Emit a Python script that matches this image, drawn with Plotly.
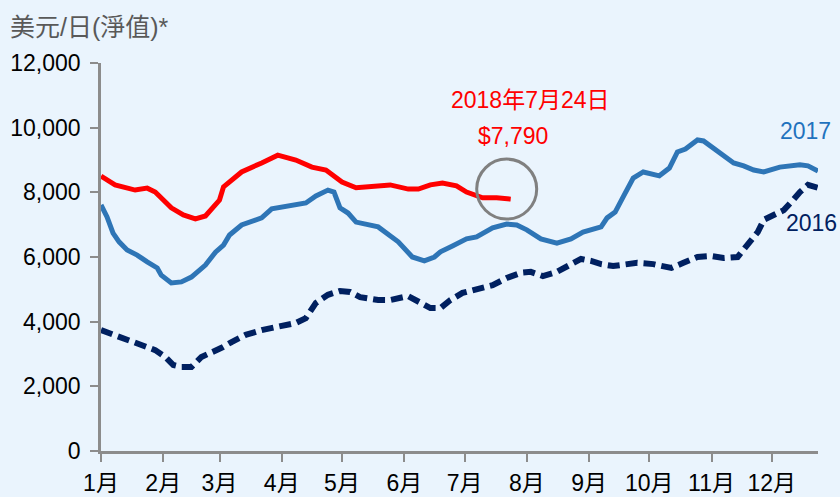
import pandas as pd
import plotly.graph_objects as go

# ---- data (day offset from Jan 1, value in USD/day) ----
days_2018 = [0, 7, 17, 23, 27, 35, 41, 47, 52, 59, 61, 65, 70, 80, 88, 97, 105, 112,
             120, 127, 136, 144, 153, 158, 164, 170, 177, 182, 190, 197, 204]
vals_2018 = [8500, 8230, 8070, 8130, 8010, 7520, 7300, 7180, 7270, 7760, 8170, 8380,
             8630, 8910, 9150, 9000, 8780, 8690, 8320, 8140, 8200, 8230, 8100, 8100,
             8230, 8290, 8200, 8010, 7830, 7830, 7790]

days_2017 = [0, 3, 6, 9, 13, 18, 23, 28, 30, 35, 40, 45, 52, 57, 61, 64, 70, 80, 85,
             95, 102, 107, 113, 116, 119, 123, 127, 138, 142, 148, 155, 161, 166, 169,
             175, 182, 187, 195, 202, 207, 212, 219, 227, 234, 240, 249, 252, 256, 260,
             262, 265, 270, 278, 283, 287, 291, 297, 300, 305, 310, 315, 320, 325, 330,
             333, 338, 348, 352, 357]
vals_2017 = [7610, 7240, 6740, 6470, 6220, 6060, 5850, 5660, 5440, 5200, 5230, 5380,
             5750, 6150, 6370, 6680, 6990, 7210, 7490, 7580, 7670, 7890, 8070, 8010,
             7520, 7360, 7080, 6930, 6740, 6470, 6000, 5880, 6000, 6160, 6340, 6560,
             6620, 6900, 7020, 6990, 6840, 6560, 6430, 6560, 6770, 6930, 7210, 7390,
             7860, 8070, 8440, 8630, 8510, 8750, 9250, 9340, 9620, 9590, 9370, 9160,
             8910, 8820, 8690, 8630, 8690, 8780, 8850, 8820, 8660]

days_2016 = [0, 7, 13, 20, 27, 32, 36, 40, 45, 50, 55, 60, 65, 72, 80, 88, 97, 102,
             107, 113, 119, 124, 129, 138, 144, 153, 158, 164, 169, 174, 180, 189, 195,
             202, 209, 214, 220, 227, 234, 239, 244, 249, 255, 260, 267, 275, 284, 290,
             297, 304, 310, 317, 320, 324, 327, 330, 335, 340, 345, 348, 352, 357]
vals_2016 = [3740, 3590, 3430, 3280, 3120, 2910, 2660, 2600, 2600, 2910, 3030, 3190,
             3370, 3590, 3740, 3840, 3960, 4110, 4580, 4830, 4950, 4920, 4760, 4670,
             4670, 4790, 4610, 4420, 4420, 4670, 4890, 5040, 5130, 5350, 5510, 5540,
             5410, 5540, 5800, 5940, 5880, 5780, 5720, 5750, 5820, 5780, 5660, 5820,
             6000, 6030, 5970, 6000, 6220, 6530, 6770, 7150, 7300, 7450, 7790, 8010,
             8230, 8140]

month_ticks = ["2017-%02d-01" % m for m in range(1, 13)]
month_labels = ["%d月" % m for m in range(1, 13)]

BASE = pd.Timestamp("2017-01-01")


def to_dates(days):
    return BASE + pd.to_timedelta(days, unit="D")


FONT = "Liberation Sans, Arial, Noto Sans CJK TC, sans-serif"
BG = "#EAF4FD"
AXIS = "#8C8C8C"
RED = "#FF0000"
BLUE = "#2E75B6"
NAVY = "#002060"

W, H = 840, 497

fig = go.Figure()
fig.add_trace(go.Scatter(x=to_dates(days_2016), y=vals_2016, mode="lines",
                         line=dict(color=NAVY, width=6, dash="12px,6px"),
                         name="2016", hoverinfo="skip"))
fig.add_trace(go.Scatter(x=to_dates(days_2017), y=vals_2017, mode="lines",
                         line=dict(color=BLUE, width=5), name="2017", hoverinfo="skip"))
fig.add_trace(go.Scatter(x=to_dates(days_2018), y=vals_2018, mode="lines",
                         line=dict(color=RED, width=5), name="2018", hoverinfo="skip"))

# circle around the latest value (pixel-sized, anchored at data point)
fig.add_shape(type="circle", xref="x", yref="y",
              xsizemode="pixel", ysizemode="pixel",
              xanchor=BASE + pd.Timedelta(days=202), yanchor=8100,
              x0=-30, x1=30, y0=-30, y1=30,
              line=dict(color="#808080", width=3), fillcolor="rgba(0,0,0,0)")

fig.add_annotation(x=BASE + pd.Timedelta(days=214), y=10860, text="2018年7月24日",
                   showarrow=False, font=dict(color=RED, size=23, family=FONT))
fig.add_annotation(x=BASE + pd.Timedelta(days=205), y=9740, text="$7,790",
                   showarrow=False, font=dict(color=RED, size=23, family=FONT))
fig.add_annotation(x=BASE + pd.Timedelta(days=351), y=9900, text="2017",
                   showarrow=False, font=dict(color="#1F72BE", size=23, family=FONT))
fig.add_annotation(x=BASE + pd.Timedelta(days=354), y=7050, text="2016",
                   showarrow=False, font=dict(color=NAVY, size=23, family=FONT))

fig.update_layout(
    width=W, height=H,
    margin=dict(l=101, r=22, t=63, b=46, autoexpand=False),
    paper_bgcolor=BG, plot_bgcolor=BG,
    showlegend=False,
    font=dict(family=FONT, size=23, color="#000000"),
    title=dict(text="美元/日(淨值)*", x=10 / W, xanchor="left", xref="container",
               y=1 - 27 / H, yanchor="middle", yref="container",
               font=dict(size=25, color="#595959", family=FONT)),
)
fig.update_xaxes(
    type="date", range=["2017-01-01", "2017-12-24"],
    tickvals=month_ticks, ticktext=month_labels,
    showgrid=False, zeroline=False, automargin=False,
    showline=True, linecolor=AXIS, linewidth=2.5,
    ticks="outside", ticklen=8, tickwidth=2, tickcolor=AXIS,
    tickfont=dict(size=23, color="#000000"),
    ticklabelstandoff=2,
)
fig.update_yaxes(
    range=[0, 12000], dtick=2000, tickformat=",",
    showgrid=False, zeroline=False, automargin=False,
    showline=True, linecolor=AXIS, linewidth=2.5,
    ticks="outside", ticklen=8, tickwidth=2, tickcolor=AXIS,
    tickfont=dict(size=23, color="#000000"),
    ticklabelstandoff=5,
)

# remove the default page margin so the 840x497 figure fills the window exactly
fig.write_html("out.html",
               config={"displayModeBar": False},
               post_script="document.body.style.margin='0';"
                           "document.body.style.overflow='hidden';")
